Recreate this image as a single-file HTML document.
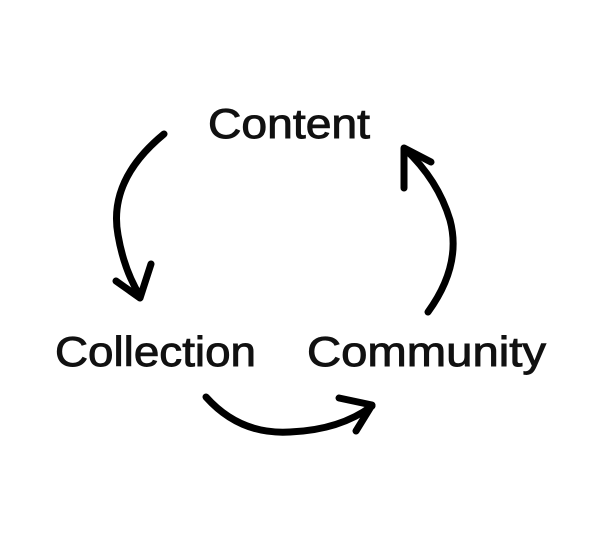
<!DOCTYPE html>
<html><head><style>html,body{margin:0;padding:0;background:#fff;}svg{display:block}</style></head>
<body>
<svg width="600" height="540" viewBox="0 0 600 540" xmlns="http://www.w3.org/2000/svg">
<g font-family="Liberation Sans, sans-serif" font-size="42" fill="#111" stroke="#111" stroke-width="0.9">
<text x="208" y="138" textLength="162" lengthAdjust="spacingAndGlyphs">Content</text>
<text x="55" y="366" textLength="201" lengthAdjust="spacingAndGlyphs">Collection</text>
<text x="307" y="366" textLength="239" lengthAdjust="spacingAndGlyphs">Community</text>
</g>
<g fill="none" stroke="#000" stroke-width="7" stroke-linecap="round" stroke-linejoin="round">
<path d="M164 134 Q108 180 118 235 Q124 270 140 296"/>
<path d="M116 281 L140 298 L151 264"/>
<path d="M206 397 Q240 435 290 432 Q340 430 372 406"/>
<path d="M339 398 L372 405 L356 431"/>
<path d="M428 312 Q462 265 450 220 Q438 180 405 149"/>
<path d="M404 188 L404 148 L431 162"/>
</g>
</svg>
</body></html>
